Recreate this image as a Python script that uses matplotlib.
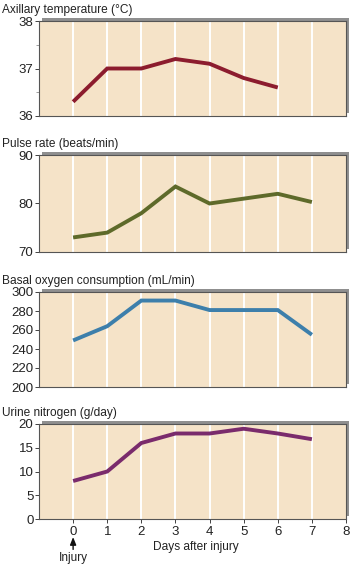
import matplotlib
matplotlib.use('Agg')
import matplotlib.pyplot as plt
from matplotlib.patches import Rectangle

plt.rcParams['font.family'] = ['Liberation Sans', 'DejaVu Sans']

days = [0, 1, 2, 3, 4, 5, 6, 7]

temp = [36.3, 37.0, 37.0, 37.2, 37.1, 36.8, 36.6]
pulse = [73, 74, 78, 83.5, 80, 81, 82, 80.3]
oxygen = [249, 264, 291, 291, 281, 281, 281, 255]
nitrogen = [8, 10, 16, 18, 18, 19, 18, 16.8]

titles = ['Axillary temperature (°C)', 'Pulse rate (beats/min)',
          'Basal oxygen consumption (mL/min)', 'Urine nitrogen (g/day)']
series = [temp, pulse, oxygen, nitrogen]
colors = ['#8c1c2e', '#5e6a2a', '#3d7fab', '#7a2b6c']
ylims = [(36, 38), (70, 90), (200, 300), (0, 20)]
yticks = [[36, 37, 38], [70, 80, 90], [200, 220, 240, 260, 280, 300], [0, 5, 10, 15, 20]]
minors = [[36.5, 37.5], [], [], []]

# axes boxes in pixels (top, bottom) of a 352x566 figure
boxes = [(21, 116), (155, 252), (292, 387), (424, 519)]
W, H = 352, 566
left, right = 39, 346

fig = plt.figure(figsize=(W / 100, H / 100), dpi=100)
bg = '#f5e3c8'

for i, (top, bot) in enumerate(boxes):
    ax = fig.add_axes([left / W, 1 - bot / H, (right - left) / W, (bot - top) / H])
    ax.set_facecolor(bg)
    # drop shadow along top and right edge
    shadow = Rectangle(((left + 3) / W, 1 - bot / H + 3 / H),
                       (right - left) / W, (bot - top) / H,
                       transform=fig.transFigure, facecolor='#8f8f8f',
                       edgecolor='none', zorder=-1)
    fig.patches.append(shadow)
    for d in days:
        ax.axvline(d, color='white', lw=1.4, zorder=1)
    y = series[i]
    ax.plot(days[:len(y)], y, color=colors[i], lw=2.8, solid_capstyle='butt',
            solid_joinstyle='miter', zorder=3)
    ax.set_xlim(-1, 8)
    ax.set_ylim(*ylims[i])
    ax.set_yticks(yticks[i])
    ax.set_yticks(minors[i], minor=True)
    ax.tick_params(axis='y', which='major', direction='out', length=3, width=0.6,
                   labelsize=9.5, pad=1, colors='#222222')
    ax.tick_params(axis='y', which='minor', direction='out', length=2, width=0.5,
                   colors='#777777')
    for s in ax.spines.values():
        s.set_color('#555555')
        s.set_linewidth(0.8)
    fig.text(2 / W, 1 - (top - 11) / H, titles[i], fontsize=8.6,
             va='center', ha='left', color='#222222')
    if i < 3:
        ax.set_xticks([])
    else:
        ax.set_xticks(range(0, 9))
        ax.tick_params(axis='x', direction='out', length=3, width=0.6,
                       labelsize=9.5, pad=2, colors='#222222')
        ax.text(3.6, -0.29, 'Days after injury', transform=ax.get_xaxis_transform(),
                ha='center', va='center', fontsize=8.6, color='#222222')
        ax.annotate('', xy=(0, -0.19), xytext=(0, -0.32),
                    xycoords=ax.get_xaxis_transform(),
                    arrowprops=dict(arrowstyle='-|>,head_length=0.45,head_width=0.18',
                                    color='#111111', lw=1.0,
                                    shrinkA=0, shrinkB=0))
        ax.text(0, -0.41, 'Injury', transform=ax.get_xaxis_transform(),
                ha='center', va='center', fontsize=8.6, color='#222222')

fig.savefig('out.png', dpi=100, facecolor='white')
